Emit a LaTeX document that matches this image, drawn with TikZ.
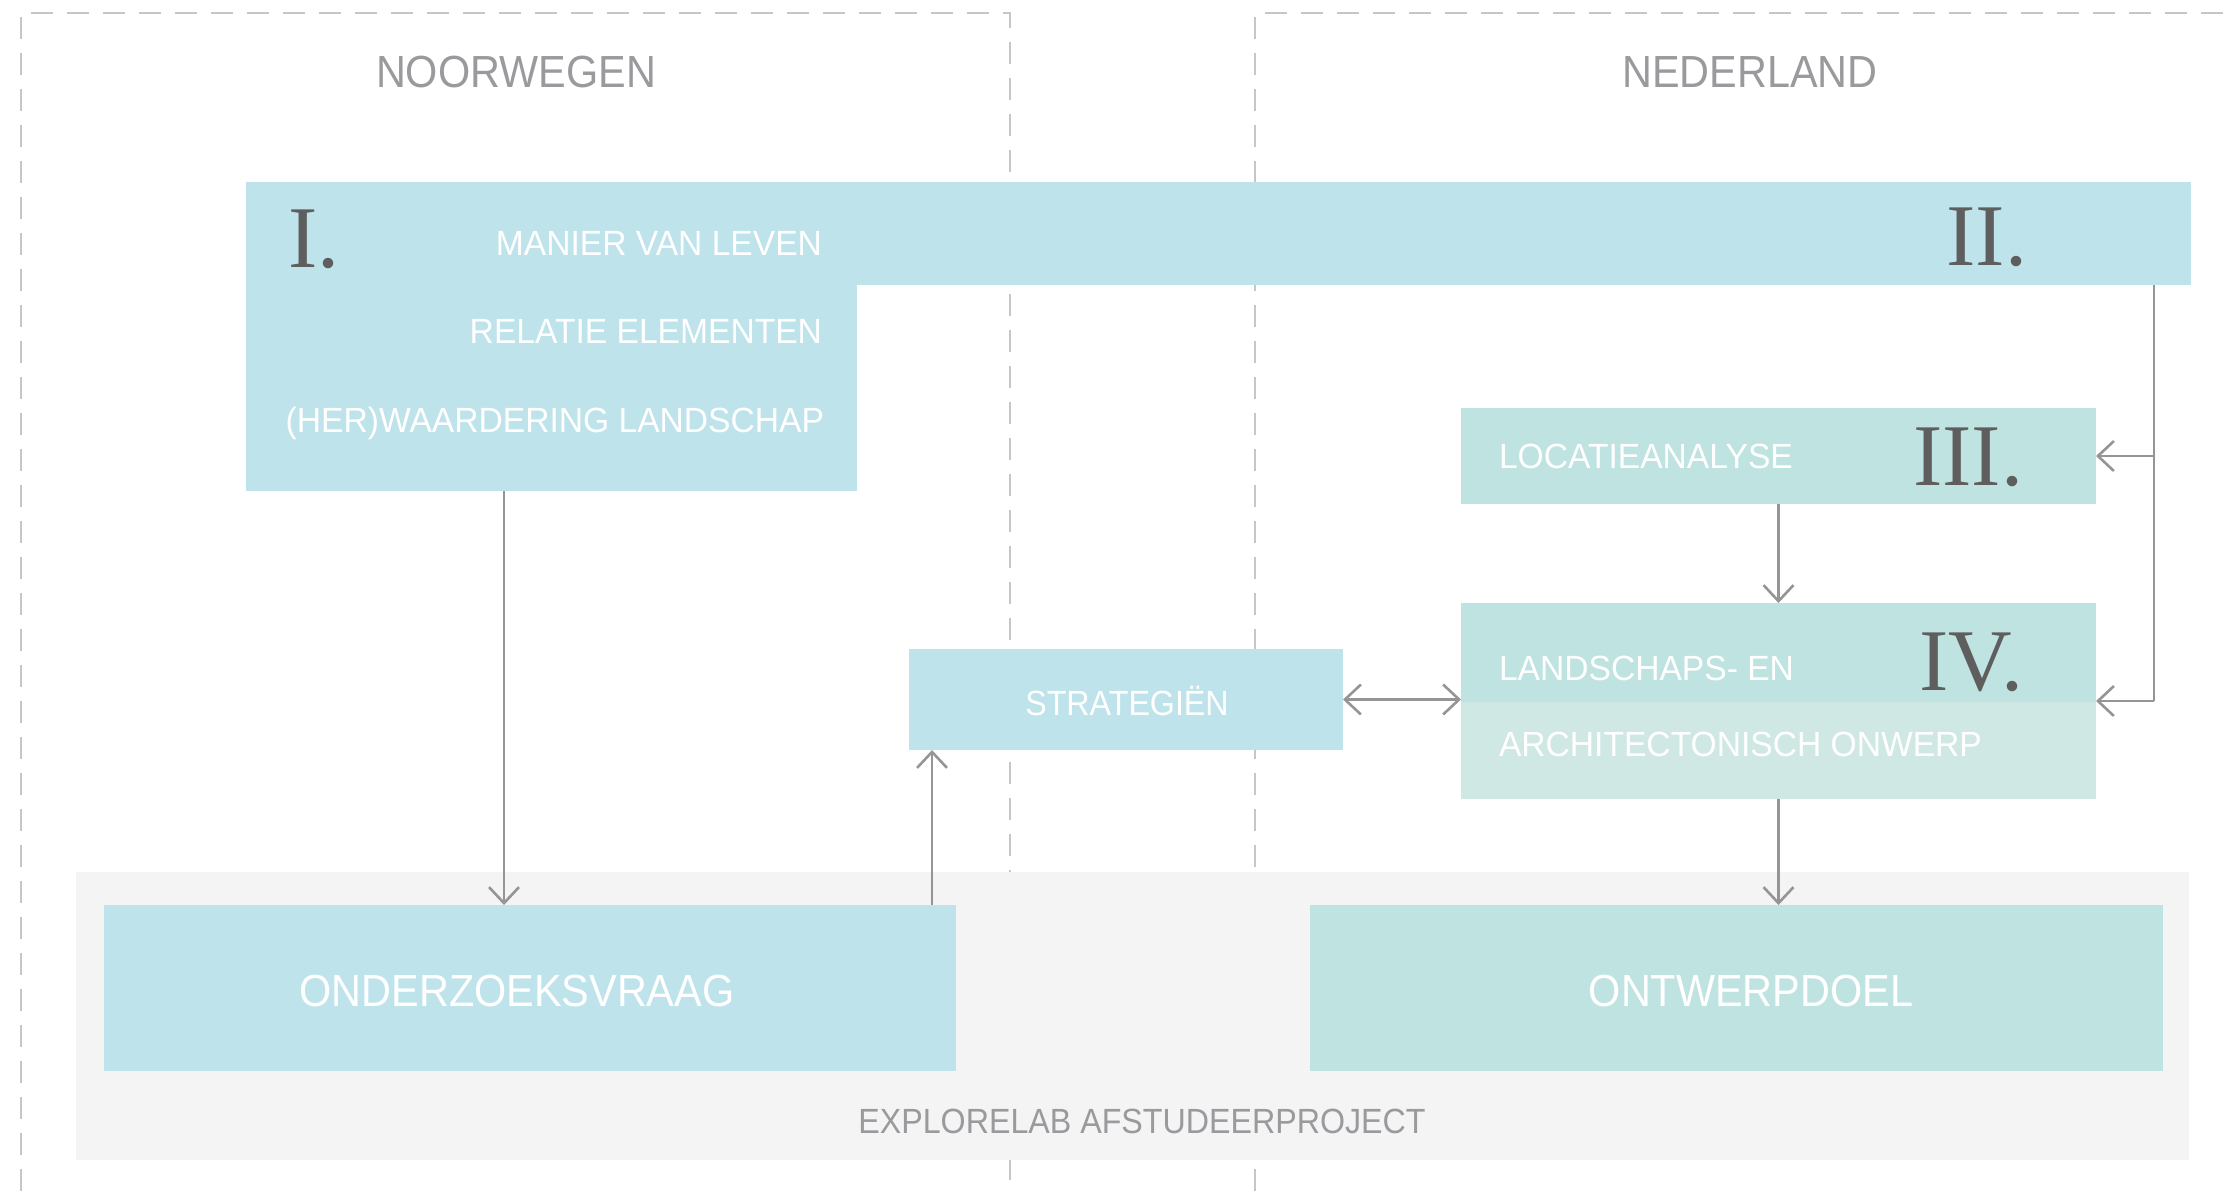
\documentclass[tikz,border=0pt]{standalone}
\usepackage{fontspec}
\usetikzlibrary{arrows.meta}
\newfontfamily\condsans[FakeStretch=0.92]{Liberation Sans}
\newfontfamily\condsansw[FakeStretch=0.96]{Liberation Sans}
\newfontfamily\numserif{Liberation Serif}
\definecolor{boxblue}{HTML}{BEE3EB}
\definecolor{boxteal}{HTML}{BFE3E0}
\definecolor{boxtealL}{HTML}{CFE8E4}
\definecolor{bggray}{HTML}{F4F4F4}
\definecolor{dashgray}{HTML}{C6C6C6}
\definecolor{titlegray}{HTML}{9A9A9E}
\definecolor{arrgray}{HTML}{959595}
\definecolor{numgray}{HTML}{5E5E5E}
\tikzset{
  panel/.style={draw=dashgray, line width=1pt, dash pattern=on 11pt off 7pt},
  blk/.style={draw=none, inner sep=0pt, outer sep=0pt},
  smalltxt/.style={inner sep=0pt, outer sep=0pt, text=white, font=\condsansw\fontsize{17.5}{21}\selectfont},
  midtxt/.style={inner sep=0pt, outer sep=0pt, text=white, font=\condsans\fontsize{17.5}{21}\selectfont},
  bigtxt/.style={inner sep=0pt, outer sep=0pt, text=white, font=\condsans\fontsize{22.5}{27}\selectfont},
  titletxt/.style={inner sep=0pt, outer sep=0pt, text=titlegray, font=\condsans\fontsize{22.5}{27}\selectfont},
  labtxt/.style={inner sep=0pt, outer sep=0pt, text=titlegray, font=\condsans\fontsize{17.5}{21}\selectfont},
  numtxt/.style={inner sep=0pt, outer sep=0pt, text=numgray, font=\numserif\fontsize{44}{50}\selectfont},
  conn/.style={draw=arrgray, line width=1.3pt},
  arr/.style={conn, -{Straight Barb[length=8pt,width=15pt]}},
  darr/.style={conn, {Straight Barb[length=8pt,width=15pt]}-{Straight Barb[length=8pt,width=15pt]}}
}
\begin{document}
\begin{tikzpicture}[x=0.5pt, y=-0.5pt]
\useasboundingbox (0,0) rectangle (2231,1191);
% dashed panels
\draw[panel] (21,1191) -- (21,13) -- (1010,13) -- (1010,1191);
\draw[panel] (1255,1191) -- (1255,13) -- (2240,13);
% grey project area
\node[blk, fill=bggray, minimum width=1056.5pt, minimum height=144pt] (bg) at (1132.5,1016) {};
% boxes
\node[blk, fill=boxblue, minimum width=972.5pt, minimum height=51.5pt] (bar) at (1218.5,233.5) {};
\node[blk, fill=boxblue, minimum width=305.5pt, minimum height=105.5pt] (rel) at (551.5,385.5) {};
\node[blk, fill=boxblue, minimum width=217pt, minimum height=50.5pt] (strat) at (1126,699.5) {};
\node[blk, fill=boxteal, minimum width=317.5pt, minimum height=48pt] (iii) at (1778.5,456) {};
\node[blk, fill=boxteal, minimum width=317.5pt, minimum height=98pt,
  path picture={\fill[boxtealL] ([yshift=-0.5pt]path picture bounding box.west) rectangle (path picture bounding box.south east);}] (iv) at (1778.5,701) {};
\node[blk, fill=boxblue, minimum width=426pt, minimum height=83pt] (ov) at (530,988) {};
\node[blk, fill=boxteal, minimum width=426.5pt, minimum height=83pt] (od) at (1736.5,988) {};
% helper coordinates
\coordinate (xa) at (504,0);
\coordinate (xb) at (932,0);
\coordinate (xc) at (2154,0);
% connectors
\draw[arr] (xa |- rel.south) -- (xa |- ov.north);
\draw[arr] (xb |- ov.north) -- (xb |- strat.south);
\draw[darr] (strat.east) -- (strat.east -| iv.west);
\draw[arr] (iii.south) -- (iv.north);
\draw[arr] (iv.south) -- (iv.south |- od.north);
\draw[conn] (xc |- bar.south) -- (xc |- iv.east);
\draw[arr] (xc |- iv.east) -- (iv.east);
\draw[arr] (xc |- iii.east) -- (iii.east);
% texts
\node[titletxt, anchor=base] (tno) at (516,87) {NOORWEGEN};
\node[titletxt, anchor=base] (tne) at (1750,87) {NEDERLAND};
\node[smalltxt, anchor=base east] (t1) at (822,255) {MANIER VAN LEVEN};
\node[smalltxt, anchor=base east] (t2) at (822,343) {RELATIE ELEMENTEN};
\node[smalltxt, anchor=base east] (t3) at (824,432) {(HER)WAARDERING LANDSCHAP};
\node[smalltxt, anchor=base west] (t4) at (1499,468) {LOCATIEANALYSE};
\node[smalltxt, anchor=base west] (t5) at (1499,680) {LANDSCHAPS- EN};
\node[smalltxt, anchor=base west] (t6) at (1499,756) {ARCHITECTONISCH ONWERP};
\node[midtxt, anchor=base] (t7) at (1127,715) {STRATEGIËN};
\node[bigtxt, anchor=base] (t8) at (517,1006) {ONDERZOEKSVRAAG};
\node[bigtxt, anchor=base] (t9) at (1751,1006) {ONTWERPDOEL};
\node[labtxt, anchor=base] (t10) at (1142,1133) {EXPLORELAB AFSTUDEERPROJECT};
\node[numtxt, anchor=base west] (n1) at (288,267) {I.};
\node[numtxt, anchor=base east] (n2) at (2027,265) {II.};
\node[numtxt, anchor=base east] (n3) at (2023,485) {III.};
\node[numtxt, anchor=base east] (n4) at (2023,690) {IV.};
\end{tikzpicture}
\end{document}
